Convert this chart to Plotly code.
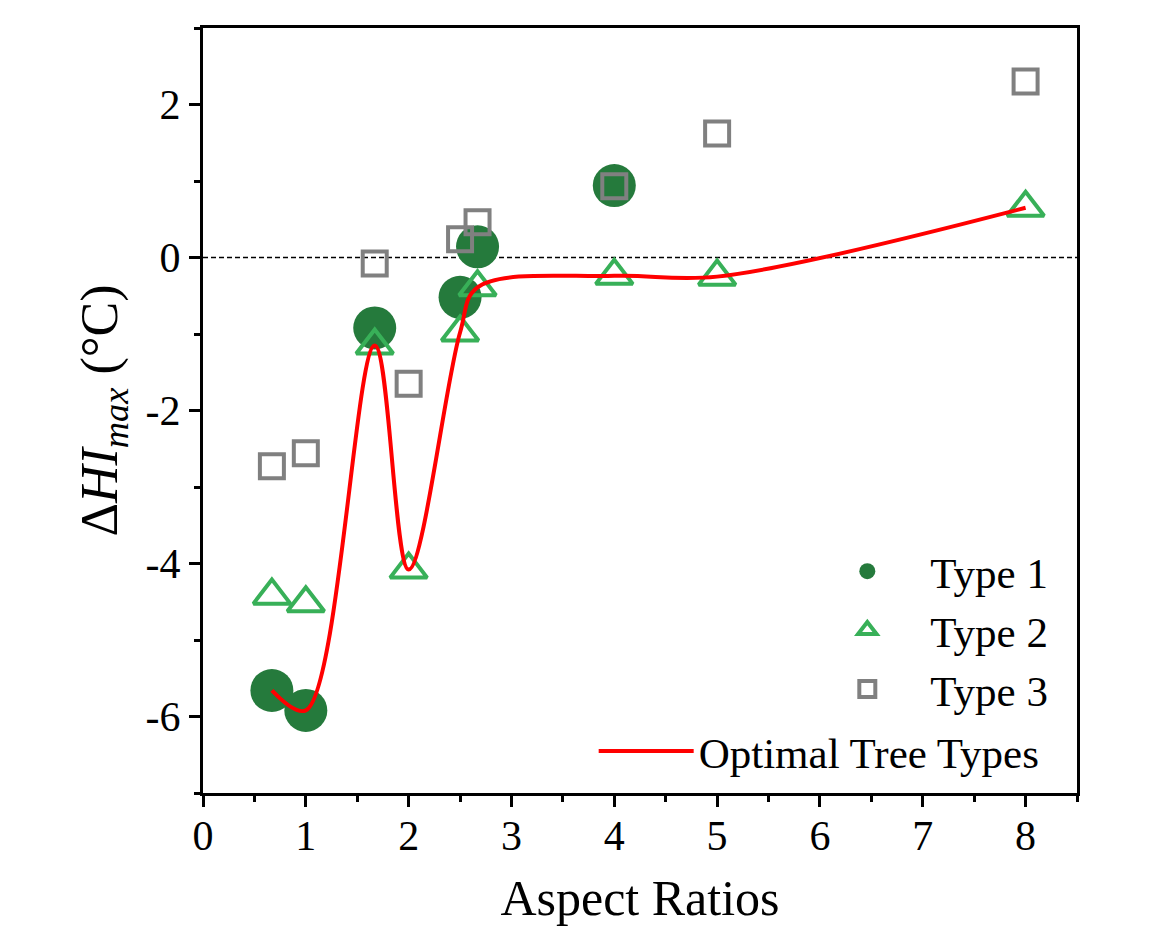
import plotly.graph_objects as go

# Aspect ratios shared by all series
aspect_ratios = [0.67, 1, 1.67, 2, 2.5, 2.67, 4, 5, 8]

# Maximum heat-index change (°C) per tree type
type1_x = [0.67, 1, 1.67, 2.5, 2.67, 4]
type1_y = [-5.66, -5.92, -0.92, -0.52, 0.14, 0.94]

type2_y = [-4.42, -4.52, -1.15, -4.08, -0.98, -0.39, -0.24, -0.25, 0.65]
type3_y = [-2.73, -2.56, -0.08, -1.65, 0.24, 0.46, 0.93, 1.62, 2.30]

# Best (lowest) value at each aspect ratio
optimal_y = [-5.66, -5.92, -1.15, -4.08, -0.98, -0.39, -0.24, -0.25, 0.65]

x_ticks = [0, 1, 2, 3, 4, 5, 6, 7, 8]
y_ticks = [-6, -4, -2, 0, 2]

FONT = "Liberation Serif, Times New Roman, serif"

fig = go.Figure()

fig.add_trace(go.Scatter(
    x=type1_x, y=type1_y, mode="markers", name="Type 1",
    marker=dict(symbol="circle", size=43, color="#257a3c", line=dict(width=0)),
    legend="legend",
))
fig.add_trace(go.Scatter(
    x=aspect_ratios, y=type2_y, mode="markers", name="Type 2",
    marker=dict(symbol="triangle-up-open", size=32, color="#38b058",
                line=dict(width=4, color="#38b058")),
    legend="legend",
))
fig.add_trace(go.Scatter(
    x=aspect_ratios, y=type3_y, mode="markers", name="Type 3",
    marker=dict(symbol="square-open", size=24, color="#808080",
                line=dict(width=4, color="#808080")),
    legend="legend",
))
fig.add_trace(go.Scatter(
    x=aspect_ratios, y=optimal_y, mode="lines", name="Optimal Tree Types",
    line=dict(color="#ff0000", width=4, shape="spline", smoothing=1.0),
    legend="legend2",
))

# Dashed reference line at zero
fig.add_shape(type="line", xref="paper", x0=0, x1=1, yref="y", y0=0, y1=0,
              line=dict(color="black", width=1.5, dash="5px,3px"), layer="below")

axis_common = dict(
    showline=True, linecolor="black", linewidth=3, mirror=True,
    ticks="outside", ticklen=11, tickwidth=3, tickcolor="black",
    showgrid=False, zeroline=False,
    tickfont=dict(family=FONT, size=42, color="black"),
)

fig.update_xaxes(
    range=[0, 8.5], tickmode="array", tickvals=x_ticks,
    ticktext=[str(v) for v in x_ticks],
    ticklabelstandoff=-7,
    minor=dict(dtick=0.5, tick0=0, ticks="outside", ticklen=6, tickwidth=3,
               tickcolor="black", showgrid=False),
    title=dict(text="Aspect Ratios", font=dict(family=FONT, size=50, color="black"),
               standoff=22),
    **axis_common,
)
fig.update_yaxes(
    range=[-7, 3], tickmode="array", tickvals=y_ticks,
    ticktext=[str(v) for v in y_ticks],
    minor=dict(dtick=1, tick0=-7, ticks="outside", ticklen=6, tickwidth=3,
               tickcolor="black", showgrid=False),
    title=dict(text="Δ<i>HI</i><sub><i>max</i></sub> (°C)",
               font=dict(family=FONT, size=52, color="black"), standoff=12),
    **axis_common,
)

fig.update_layout(
    width=1174, height=942,
    margin=dict(l=203, r=97, t=28, b=149),
    plot_bgcolor="white", paper_bgcolor="white",
    font=dict(family=FONT, color="black"),
    legend=dict(
        x=0.688, y=0.335, xanchor="left", yanchor="top",
        bgcolor="rgba(0,0,0,0)", borderwidth=0,
        font=dict(family=FONT, size=43, color="black"),
        itemsizing="trace", itemwidth=116, tracegroupgap=0,
    ),
    legend2=dict(
        x=0.447, y=0.1, xanchor="left", yanchor="top",
        bgcolor="rgba(0,0,0,0)", borderwidth=0,
        font=dict(family=FONT, size=43, color="black"),
        itemwidth=95,
    ),
)

fig.write_html("out.html")
